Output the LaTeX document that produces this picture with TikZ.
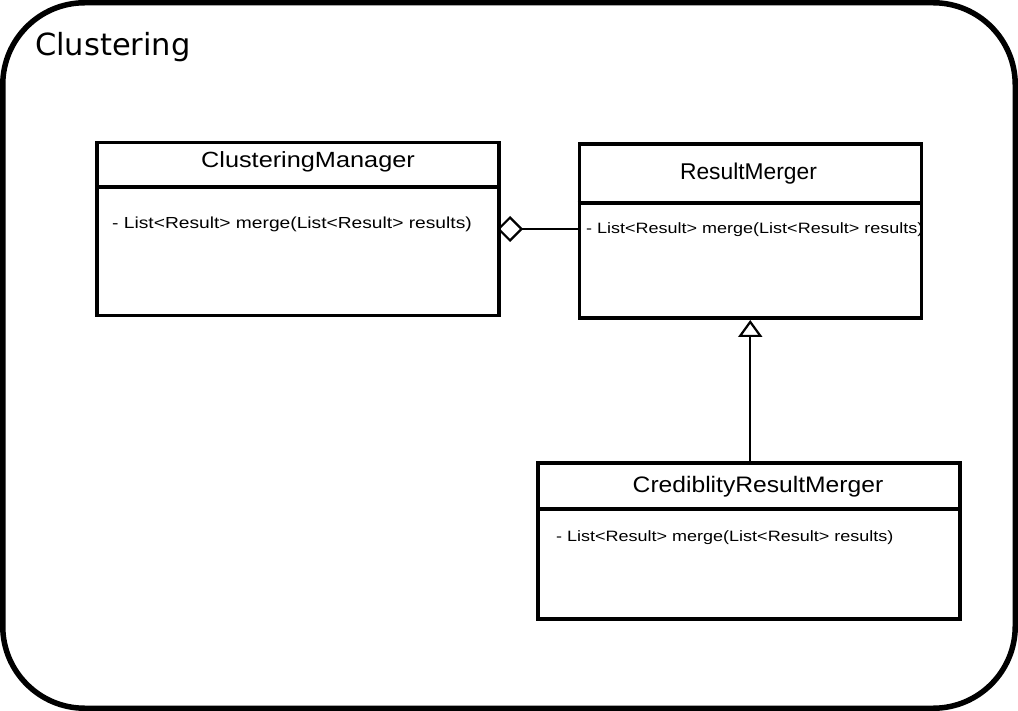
\documentclass[tikz,border=0pt]{standalone}
\usepackage{fontspec}
\usetikzlibrary{arrows.meta}
\newfontfamily\arialA[FakeStretch=1.15]{Liberation Sans}
\newfontfamily\arialB[FakeStretch=1.2]{Liberation Sans}
\newfontfamily\arialC{Liberation Sans}
\newfontfamily\arialD[FakeStretch=1.1]{Liberation Sans}
\newfontfamily\titlef{DejaVu Sans}
\tikzset{
  classbox/.style={draw, line width=3.5pt, minimum width=#1, anchor=north west, inner sep=0pt},
  divider/.style={line width=3.5pt},
  ctitle/.style={anchor=base, inner sep=0pt},
  cmethod/.style={anchor=base west, inner sep=0pt},
  conn/.style={line width=2.2pt},
}
\begin{document}
\begin{tikzpicture}[x=1pt,y=-1pt]
\useasboundingbox (0,0) rectangle (1018,711);
\draw[line width=5.5pt, rounded corners=82pt] (2.75,2.75) rectangle (1015.25,708.25);
\node[anchor=base west, inner sep=0pt, font=\titlef\fontsize{30.5}{36}\selectfont] (title) at (35,56) {Clustering};

% ClusteringManager
\node[classbox=402pt, minimum height=173pt] (cm) at (95,141) {};
\draw[divider] (95,187) -- (497,187);
\node[ctitle, font=\arialA\fontsize{22}{26}\selectfont] (cmt) at (308,168) {ClusteringManager};
\node[cmethod, font=\arialB\fontsize{16}{18}\selectfont] (cmm) at (112,229) {- List<Result> merge(List<Result> results)};

% ResultMerger
\node[cmethod, font=\arialB\fontsize{15}{18}\selectfont] (rmm) at (586,234) {- List<Result> merge(List<Result> results)};
\node[classbox=342pt, minimum height=174pt] (rm) at (577.5,142.5) {};
\draw[divider] (577.5,203) -- (919.5,203);
\node[ctitle, font=\arialC\fontsize{22.8}{26}\selectfont] (rmt) at (748.5,180) {ResultMerger};

% CrediblityResultMerger
\node[classbox=422pt, minimum height=156pt] (crm) at (536,461) {};
\draw[divider] (536,509) -- (958,509);
\node[ctitle, font=\arialD\fontsize{22.4}{26}\selectfont] (crmt) at (758,492) {CrediblityResultMerger};
\node[cmethod, font=\arialB\fontsize{15}{18}\selectfont] (crmm) at (556,541) {- List<Result> merge(List<Result> results)};

% connectors
\coordinate (dstart) at (497,229);
\draw[conn, {Diamond[open, length=26pt, width=26pt]}-] (dstart) -- (rm.west |- dstart);
\draw[conn, {Triangle[open, length=17pt, width=24pt]}-] (rm.south) -- (rm.south |- crm.north);
\end{tikzpicture}
\end{document}
